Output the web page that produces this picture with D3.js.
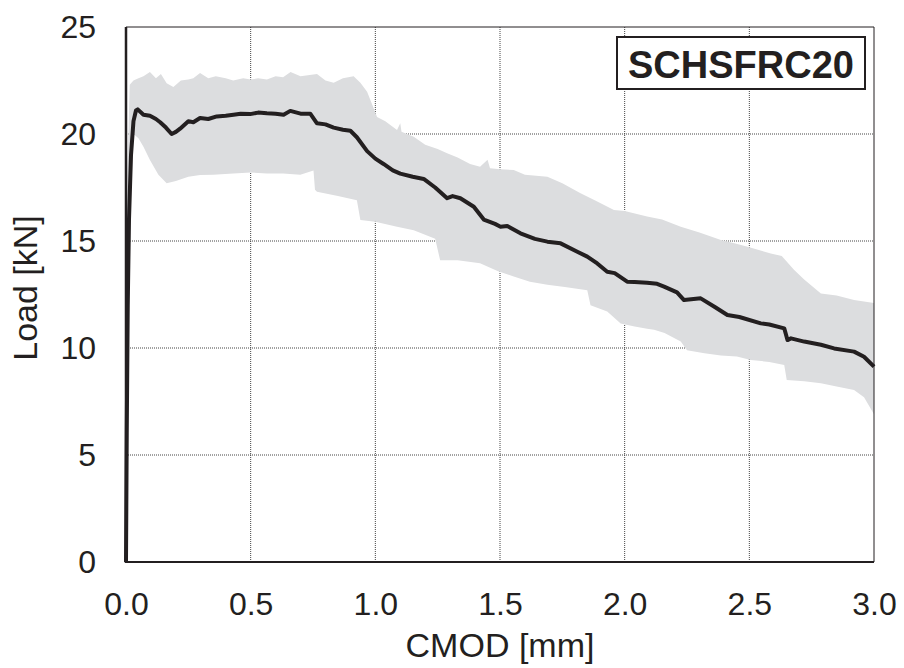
<!DOCTYPE html>
<html>
<head>
<meta charset="utf-8">
<script src="https://cdn.jsdelivr.net/npm/d3@7"></script>
<style>
  body { margin: 0; background: #fff; }
  text { font-family: Arial, "Liberation Sans", sans-serif; fill: #231f20; }
</style>
</head>
<body>
<div id="chart"></div>
<script>
// mean curve (CMOD mm, load kN)
var meanCmod = [0, 0.003, 0.007, 0.012, 0.02, 0.03, 0.04, 0.047, 0.07, 0.096, 0.12, 0.137, 0.16, 0.183, 0.2, 0.217, 0.25, 0.27, 0.297, 0.33,
    0.364, 0.4, 0.431, 0.46, 0.498, 0.53, 0.565, 0.6, 0.632, 0.659, 0.7, 0.739, 0.766, 0.8, 0.833, 0.87, 0.9, 0.926, 0.967, 1.0,
    1.033, 1.07, 1.1, 1.15, 1.194, 1.24, 1.288, 1.31, 1.341, 1.395, 1.435, 1.48, 1.502, 1.529, 1.56, 1.582, 1.64, 1.69, 1.743, 1.81,
    1.85, 1.89, 1.93, 1.96, 2.01, 2.04, 2.09, 2.13, 2.158, 2.21, 2.238, 2.305, 2.36, 2.412, 2.46, 2.546, 2.58, 2.64, 2.653, 2.667,
    2.72, 2.787, 2.84, 2.92, 2.96, 3.0];
var meanLoad = [0, 6, 12, 16, 19, 20.6, 21.1, 21.15, 20.9, 20.85, 20.7, 20.55, 20.3, 20.0, 20.1, 20.25, 20.6, 20.55, 20.75, 20.7,
    20.82, 20.85, 20.9, 20.95, 20.93, 21.0, 20.97, 20.95, 20.9, 21.08, 20.95, 20.95, 20.5, 20.45, 20.3, 20.2, 20.15, 19.85, 19.2, 18.85,
    18.6, 18.3, 18.15, 18.0, 17.9, 17.5, 17.0, 17.1, 17.0, 16.6, 16.0, 15.8, 15.67, 15.7, 15.5, 15.36, 15.1, 14.97, 14.89, 14.5,
    14.27, 13.95, 13.56, 13.5, 13.1, 13.08, 13.05, 13.0, 12.87, 12.6, 12.24, 12.32, 11.93, 11.54, 11.45, 11.15, 11.1, 10.92, 10.37, 10.45,
    10.3, 10.15, 9.98, 9.83, 9.59, 9.13];

// scatter band, upper edge
var upperCmod = [0, 0.005, 0.015, 0.03, 0.05, 0.07, 0.096, 0.12, 0.14, 0.163, 0.19, 0.22, 0.25, 0.27, 0.297, 0.33, 0.36, 0.4, 0.43, 0.47,
    0.5, 0.53, 0.565, 0.6, 0.63, 0.66, 0.7, 0.766, 0.8, 0.833, 0.87, 0.913, 0.94, 0.967, 0.99, 1.007, 1.04, 1.087, 1.1, 1.105,
    1.154, 1.2, 1.25, 1.288, 1.33, 1.38, 1.42, 1.45, 1.46, 1.5, 1.555, 1.6, 1.69, 1.75, 1.823, 1.88, 1.957, 2.0, 2.09, 2.15,
    2.225, 2.3, 2.386, 2.44, 2.493, 2.586, 2.63, 2.68, 2.72, 2.787, 2.85, 2.92, 3.0];
var upperLoad = [0, 18, 22.3, 22.5, 22.6, 22.7, 22.9, 22.6, 22.8, 22.37, 22.2, 22.5, 22.55, 22.6, 22.85, 22.6, 22.7, 22.6, 22.5, 22.6,
    22.55, 22.6, 22.55, 22.7, 22.65, 22.9, 22.7, 22.8, 22.5, 22.4, 22.6, 22.7, 22.4, 21.98, 21.3, 20.8, 20.6, 20.19, 20.5, 20.1,
    19.87, 19.5, 19.3, 19.1, 18.9, 18.6, 18.47, 18.8, 18.4, 18.35, 18.32, 18.1, 18.0, 17.7, 17.23, 16.9, 16.45, 16.4, 16.14, 16.0,
    15.67, 15.4, 15.05, 14.9, 14.73, 14.42, 14.3, 13.64, 13.2, 12.55, 12.45, 12.24, 12.1];

// scatter band, lower edge
var lowerCmod = [0, 0.01, 0.02, 0.03, 0.05, 0.07, 0.096, 0.13, 0.163, 0.2, 0.25, 0.297, 0.35, 0.43, 0.5, 0.565, 0.63, 0.699, 0.752, 0.758,
    0.766, 0.85, 0.926, 0.94, 1.0, 1.087, 1.154, 1.24, 1.26, 1.33, 1.42, 1.49, 1.555, 1.62, 1.69, 1.76, 1.85, 1.863, 1.93, 1.984,
    2.04, 2.09, 2.118, 2.16, 2.225, 2.25, 2.32, 2.386, 2.45, 2.506, 2.58, 2.64, 2.65, 2.72, 2.787, 2.85, 2.92, 2.96, 3.0];
var lowerLoad = [0, 10, 17, 20.0, 19.8, 19.4, 18.78, 18.1, 17.7, 17.8, 18.0, 18.08, 18.1, 18.15, 18.2, 18.15, 18.15, 18.1, 18.3, 17.4,
    17.3, 17.1, 16.9, 15.98, 15.9, 15.67, 15.5, 15.1, 14.1, 14.1, 13.96, 13.6, 13.34, 13.1, 12.95, 12.85, 12.7, 12.0, 11.7, 11.15,
    11.0, 10.9, 10.85, 10.7, 10.3, 9.9, 9.75, 9.65, 9.6, 9.44, 9.35, 9.2, 8.5, 8.45, 8.35, 8.2, 8.04, 7.7, 6.9];

var xTicks = [0, 0.5, 1.0, 1.5, 2.0, 2.5, 3.0];
var yTicks = [0, 5, 10, 15, 20, 25];
var specimen = "SCHSFRC20";

var W = 904, H = 668,
    margin = {left: 126, right: 30, top: 27, bottom: 106};

var svg = d3.select('#chart')
    .append('svg')
    .attr('width', W)
    .attr('height', H);

var x = d3.scaleLinear().domain([0, 3]).range([margin.left, W - margin.right]),
    y = d3.scaleLinear().domain([0, 25]).range([H - margin.bottom, margin.top]);

// grid
var grid = svg.append('g').attr('class', 'grid');
grid.selectAll('.gx').data(xTicks.slice(1, -1)).enter().append('line')
    .attr('x1', function (d) { return x(d); })
    .attr('x2', function (d) { return x(d); })
    .attr('y1', y(0)).attr('y2', y(25))
    .style('stroke', '#444').style('stroke-width', 1).style('stroke-dasharray', '1,1');
grid.selectAll('.gy').data(yTicks.slice(1, -1)).enter().append('line')
    .attr('x1', x(0)).attr('x2', x(3))
    .attr('y1', function (d) { return y(d); })
    .attr('y2', function (d) { return y(d); })
    .style('stroke', '#444').style('stroke-width', 1).style('stroke-dasharray', '1,1');

// band: upper edge forward, lower edge back
var bandPts = upperCmod.map(function (c, i) { return [c, upperLoad[i]]; });
for (var i = lowerCmod.length - 1; i >= 0; i -= 1) {
    bandPts.push([lowerCmod[i], lowerLoad[i]]);
}
var line = d3.line()
    .x(function (d) { return x(d[0]); })
    .y(function (d) { return y(d[1]); });

svg.append('path')
    .attr('d', line(bandPts) + 'Z')
    .style('fill', '#dcdddf')
    .style('stroke', 'none');

// mean curve
svg.append('path')
    .attr('d', line(meanCmod.map(function (c, i) { return [c, meanLoad[i]]; })))
    .style('fill', 'none')
    .style('stroke', '#231f20')
    .style('stroke-width', 4)
    .style('stroke-linejoin', 'round');

// frame
svg.append('line').attr('x1', x(0)).attr('x2', x(3)).attr('y1', y(25)).attr('y2', y(25))
    .style('stroke', '#231f20').style('stroke-width', 1);
svg.append('line').attr('x1', x(3)).attr('x2', x(3)).attr('y1', y(0)).attr('y2', y(25))
    .style('stroke', '#231f20').style('stroke-width', 1);
svg.append('line').attr('x1', x(0)).attr('x2', x(3)).attr('y1', y(0)).attr('y2', y(0))
    .style('stroke', '#231f20').style('stroke-width', 2);
svg.append('line').attr('x1', x(0)).attr('x2', x(0)).attr('y1', y(0) + 1).attr('y2', y(25))
    .style('stroke', '#231f20').style('stroke-width', 2.5);

// axes: labels only, no tick marks
var xAxis = svg.append('g')
    .attr('transform', 'translate(0,' + (H - margin.bottom) + ')')
    .call(d3.axisBottom(x).tickValues(xTicks).tickFormat(d3.format('.1f')).tickSize(0).tickPadding(30));
var yAxis = svg.append('g')
    .attr('transform', 'translate(' + (margin.left - 30) + ',0)')
    .call(d3.axisLeft(y).tickValues(yTicks).tickFormat(d3.format('d')).tickSize(0).tickPadding(0));
[xAxis, yAxis].forEach(function (a) {
    a.select('.domain').remove();
    a.selectAll('text')
        .style('font-family', 'Arial, "Liberation Sans", sans-serif')
        .style('font-size', '32px')
        .style('fill', '#231f20');
});

// axis titles
svg.append('text')
    .attr('x', (x(0) + x(3)) / 2)
    .attr('y', 657)
    .attr('text-anchor', 'middle')
    .style('font-size', '34px')
    .text('CMOD [mm]');
svg.append('text')
    .attr('transform', 'translate(37,288) rotate(-90)')
    .attr('text-anchor', 'middle')
    .style('font-size', '34px')
    .text('Load [kN]');

// specimen label box
svg.append('rect')
    .attr('x', 617).attr('y', 37).attr('width', 248).attr('height', 52)
    .style('fill', '#fff').style('stroke', '#231f20').style('stroke-width', 2);
svg.append('text')
    .attr('x', 741).attr('y', 78)
    .attr('text-anchor', 'middle')
    .style('font-size', '38px')
    .style('font-weight', 'bold')
    .text(specimen);
</script>
</body>
</html>
